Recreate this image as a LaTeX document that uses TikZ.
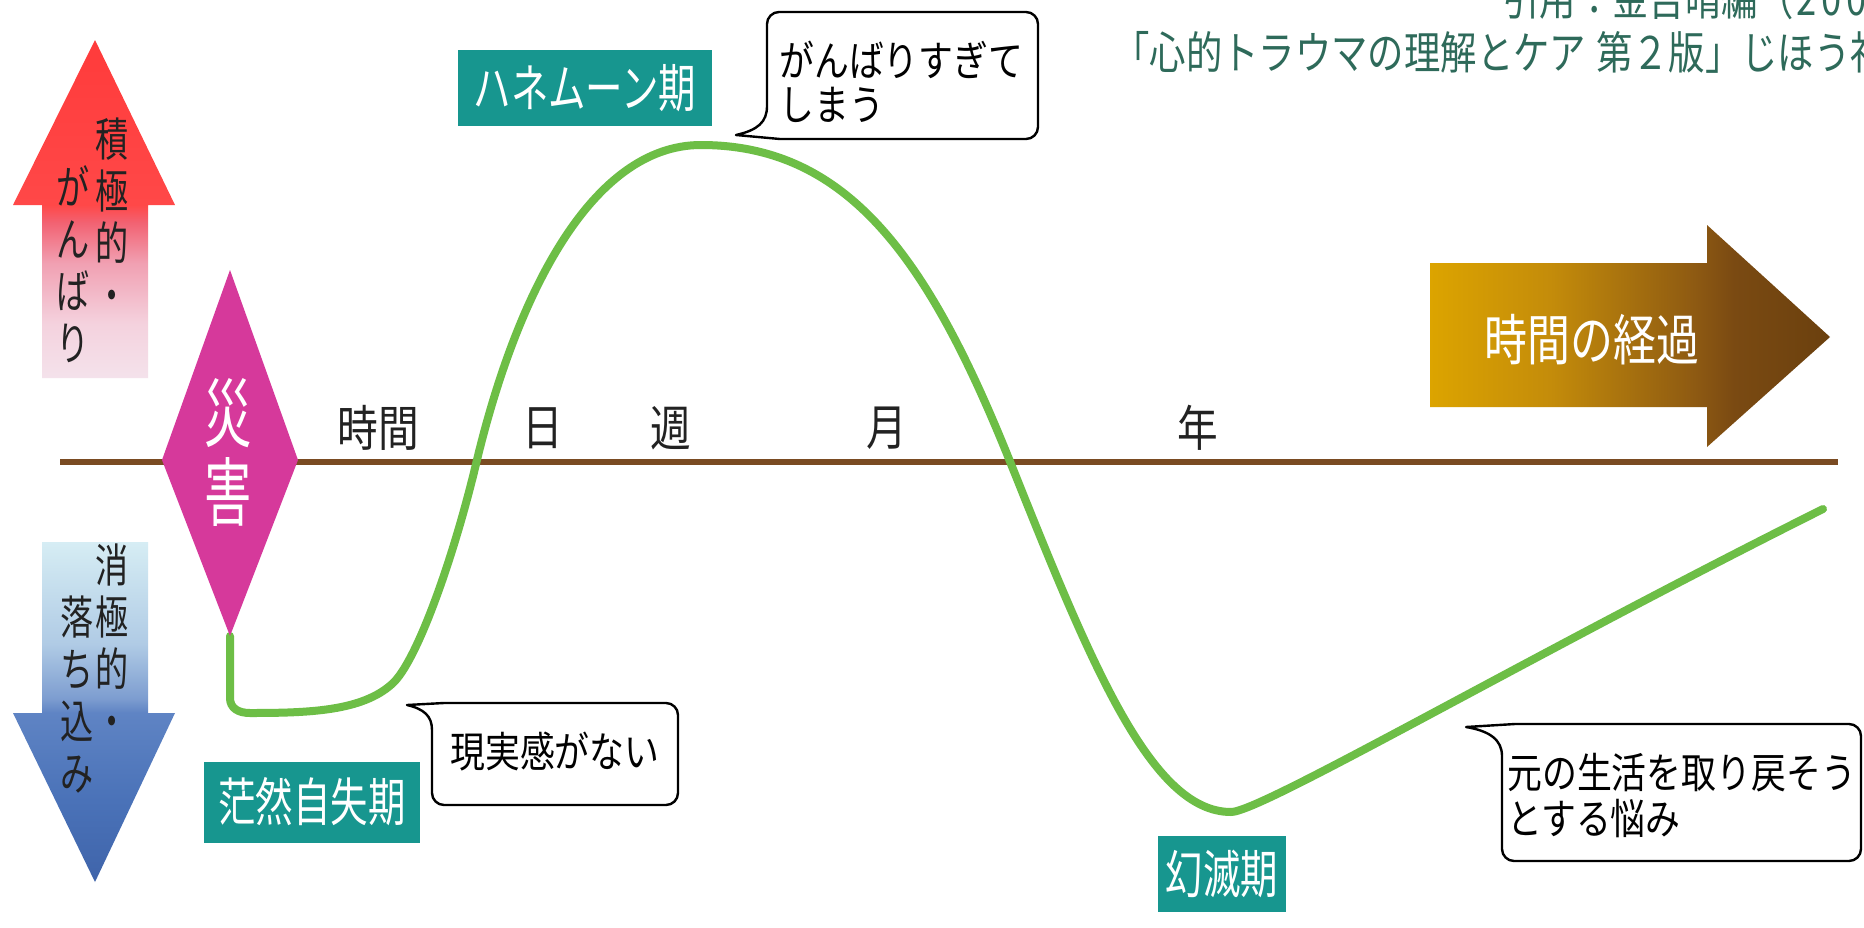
\documentclass[tikz,border=0pt]{standalone}
\usepackage{fontspec}
\newfontfamily\jpa[FakeStretch=0.83]{Noto Sans CJK JP}
\newfontfamily\jpb[FakeStretch=0.78]{Noto Sans CJK JP}
\newfontfamily\jpe[FakeStretch=0.808]{Noto Sans CJK JP}
\newfontfamily\jpc[FakeStretch=0.72]{Noto Sans CJK JP}
\newfontfamily\jpd[FakeStretch=0.63]{Noto Sans CJK JP}
\newcommand\cdg[1]{\makebox[12.5pt]{#1}}
\definecolor{tealbox}{HTML}{17968F}
\definecolor{mag}{HTML}{D6399B}
\definecolor{grn}{HTML}{6DBE46}
\definecolor{axbrown}{HTML}{7A4B22}
\definecolor{citec}{HTML}{2E6A5A}
\definecolor{lbl}{HTML}{222222}
% red arrow colours
\definecolor{rA}{HTML}{F4E2EB}
\definecolor{rB}{HTML}{F4D2DE}
\definecolor{rC}{HTML}{F1A0B2}
\definecolor{rD}{HTML}{F26272}
\definecolor{rE}{HTML}{FF4848}
\definecolor{rF}{HTML}{FF3B3B}
% blue arrow colours
\definecolor{bA}{HTML}{3F64AA}
\definecolor{bB}{HTML}{4A72B8}
\definecolor{bC}{HTML}{5F84C4}
\definecolor{bD}{HTML}{7D9DD0}
\definecolor{bE}{HTML}{B0CBE5}
\definecolor{bF}{HTML}{D6EDF4}
% brown arrow colours
\definecolor{gA}{HTML}{DCA400}
\definecolor{gB}{HTML}{C48C0A}
\definecolor{gC}{HTML}{8E5A12}
\definecolor{gD}{HTML}{7A4A12}
\definecolor{gE}{HTML}{6B400E}
\pgfdeclareverticalshading{redup}{100bp}{color(0bp)=(rA); color(25bp)=(rA); color(33bp)=(rB); color(42bp)=(rC); color(48bp)=(rD); color(50.6bp)=(rE); color(75bp)=(rF); color(100bp)=(rF)}
\pgfdeclareverticalshading{bluedown}{100bp}{color(0bp)=(bA); color(25bp)=(bA); color(37bp)=(bB); color(49.9bp)=(bC); color(52bp)=(bD); color(60bp)=(bE); color(75bp)=(bF); color(100bp)=(bF)}
\pgfdeclarehorizontalshading{timearrow}{100bp}{color(0bp)=(gA); color(25bp)=(gA); color(40bp)=(gB); color(58bp)=(gC); color(63bp)=(gD); color(75bp)=(gE); color(100bp)=(gE)}
\begin{document}
\begin{tikzpicture}[x=0.5pt,y=-0.5pt,
  curve/.style={draw=grn, line width=4pt, line cap=round, line join=round},
  axisline/.style={draw=axbrown, line width=3pt},
  phase/.style={fill=tealbox, text=white, inner sep=0pt, font=\jpc\fontsize{26pt}{28pt}\selectfont},
  bubble/.style={draw=black, fill=white, line width=1.2pt, line join=round},
  bubbletext/.style={inner sep=0pt, anchor=west, align=left, text=black},
  ticklabel/.style={inner sep=0pt, text=lbl, font=\jpa\fontsize{24.5pt}{26pt}\selectfont},
  vtext/.style={inner sep=0pt, align=center, text=lbl, font=\jpc\fontsize{23pt}{26pt}\selectfont},
  citetext/.style={inner sep=0pt, anchor=west, text=citec, font=\jpe\fontsize{22.5pt}{24pt}\selectfont}]
\useasboundingbox (0,0) rectangle (1864,927);
\clip (0,0) rectangle (1864,927);
\fill[white] (0,0) rectangle (1864,927);

% citation (clipped at top and right, as in the source)
\node[citetext] (cite1) at (1503,-2) {引用：金吉晴編（\cdg{2}\cdg{0}\cdg{0}\cdg{6}）};
\node[citetext] (cite2) at (1113,52) {「心的トラウマの理解とケア\hspace{5pt}第２版」じほう社};

% vertical arrows
\shade[shading=redup] (95,40) -- (175,205) -- (148,205) -- (148,378) -- (42,378) -- (42,205) -- (13,205) -- cycle;
\shade[shading=bluedown] (42,542) -- (148,542) -- (148,713) -- (175,713) -- (95,882) -- (13,713) -- (42,713) -- cycle;
\node[vtext] (posR) at (112,215) {積\\極\\的\\・};
\node[vtext] (posL) at (73,264) {が\\ん\\ば\\り};
\node[vtext] (negR) at (112,641) {消\\極\\的\\・};
\node[vtext] (negL) at (77,695) {落\\ち\\込\\み};

% time arrow
\shade[shading=timearrow] (1430,263) -- (1707,263) -- (1707,225) -- (1830,337) -- (1707,447) -- (1707,407) -- (1430,407) -- cycle;
\node[inner sep=0pt, text=white, font=\jpb\fontsize{27.5pt}{30pt}\selectfont] (keika) at (1592,340) {時間の経過};

% axis
\coordinate (axL) at (60,462);
\coordinate (axR) at (1838,462);
\draw[axisline] (axL) -- (axR);
\node[ticklabel] (tJikan) at (378,428) {時間};
\node[ticklabel] (tHi) at (543,428) {日};
\node[ticklabel] (tShu) at (671,428) {週};
\node[ticklabel] (tTsuki) at (887,428) {月};
\node[ticklabel] (tNen) at (1198,428) {年};

% green curve
\coordinate (disB) at (230,636);
\coordinate (curveEnd) at (1823,509);
\draw[curve] (disB) -- (230,698) .. controls (230,708) and (238,713) .. (250,713)
  .. controls (310,713) and (362,711) .. (392,684)
  .. controls (417,662) and (454,556) .. (476,464)
  .. controls (516,296) and (591,145) .. (701,145)
  .. controls (851,145) and (931,264) .. (1011,464)
  .. controls (1091,664) and (1151,812) .. (1231,812)
  .. controls (1261,812) and (1523,659) .. (curveEnd);

% disaster diamond
\fill[mag] (230,270) -- (298,460) -- (230,636) -- (162,460) -- cycle;
\node[inner sep=0pt, align=center, text=white, font=\jpd\fontsize{37.5pt}{39.5pt}\selectfont] (saigai) at (228,452) {災\\害};

% phase labels
\node[phase, minimum width=127pt, minimum height=38pt] (honey) at (585,88) {ハネムーン期};
\node[phase, minimum width=108pt, minimum height=40.5pt] (bozen) at (312,802) {茫然自失期};
\node[phase, minimum width=64pt, minimum height=38pt] (genmetsu) at (1222,874) {幻滅期};

% speech bubbles
\draw[bubble] (736,135) -- (780,139) -- (1026,139) .. controls (1032.6,139) and (1038,133.6) .. (1038,127) -- (1038,24) .. controls (1038,17.4) and (1032.6,12) .. (1026,12) -- (779,12) .. controls (772.4,12) and (767,17.4) .. (767,24) -- (767,106) .. controls (767,122) and (758,130) .. (736,135) -- cycle;
\node[bubbletext, font=\jpa\fontsize{21pt}{22pt}\selectfont] (ganbari) at (779,82) {がんばりすぎて\\しまう};

\draw[bubble] (407,705) -- (444,703) -- (666,703) .. controls (672.6,703) and (678,708.4) .. (678,715) -- (678,793) .. controls (678,799.6) and (672.6,805) .. (666,805) -- (444,805) .. controls (437.4,805) and (432,799.6) .. (432,793) -- (432,730) .. controls (432,716) and (424,709) .. (407,705) -- cycle;
\node[bubbletext, font=\jpa\fontsize{21pt}{22pt}\selectfont] (genjitsu) at (450,752) {現実感がない};

\draw[bubble] (1466,727) -- (1515,724) -- (1849,724) .. controls (1855.6,724) and (1861,729.4) .. (1861,736) -- (1861,849) .. controls (1861,855.6) and (1855.6,861) .. (1849,861) -- (1514,861) .. controls (1507.4,861) and (1502,855.6) .. (1502,849) -- (1502,756) .. controls (1502,740) and (1490,731) .. (1466,727) -- cycle;
\node[bubbletext, font=\jpa\fontsize{21pt}{23pt}\selectfont] (moto) at (1507,796) {元の生活を取り戻そう\\とする悩み};
\end{tikzpicture}
\end{document}
